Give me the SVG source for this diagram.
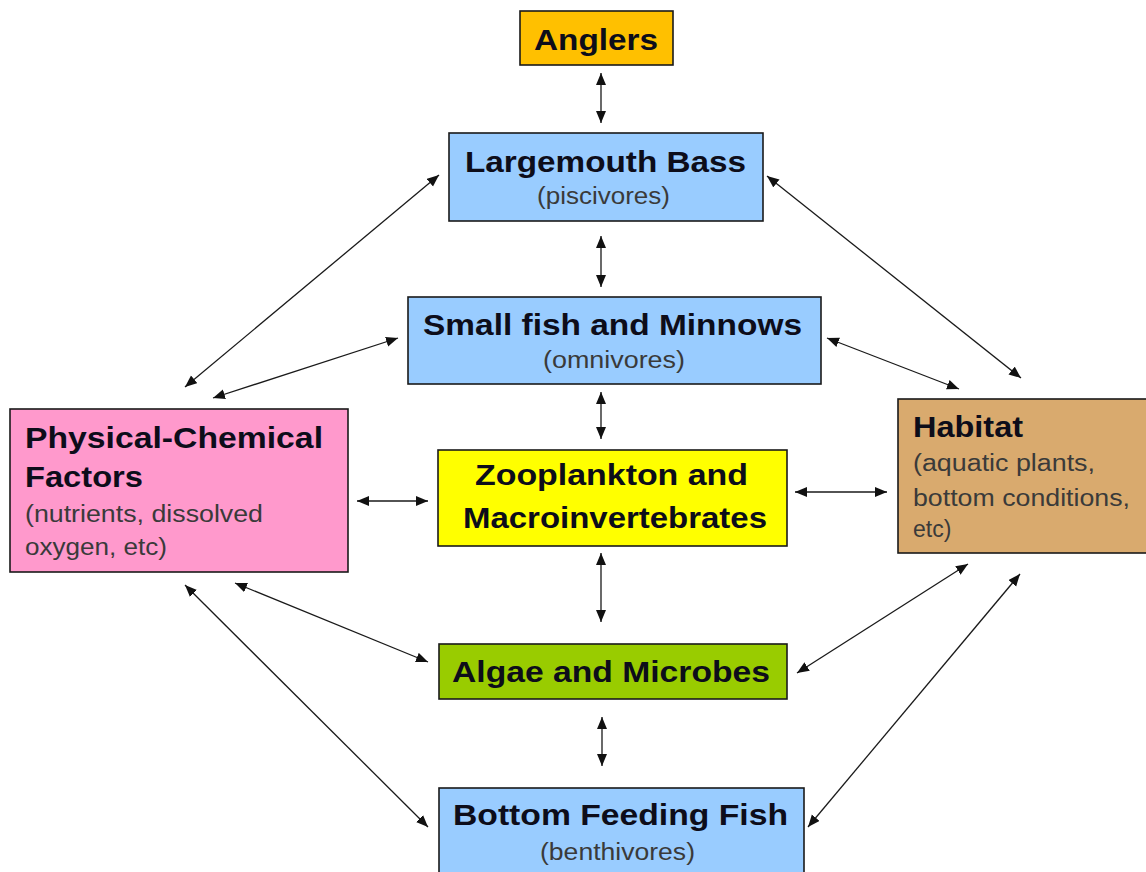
<svg xmlns="http://www.w3.org/2000/svg" width="1146" height="872" viewBox="0 0 1146 872">
<style>
.box{stroke:#1a1a1a;stroke-width:1.6}
.t{font-family:"Liberation Sans",Arial,sans-serif;font-weight:bold;font-size:30px;fill:#0d0d1a}
.s{font-family:"Liberation Sans",Arial,sans-serif;font-size:23px;fill:#3a3a3a}
.c line{stroke:#1a1a1a;stroke-width:1.3;marker-start:url(#ah);marker-end:url(#ah)}
</style>
<defs>
<marker id="ah" markerUnits="userSpaceOnUse" markerWidth="14" markerHeight="12" refX="12" refY="5" orient="auto-start-reverse">
<path d="M0,0 L12,5 L0,10 z" fill="#111"/>
</marker>
</defs>
<rect width="1146" height="872" fill="#fff"/>
<g id="anglers"><rect class="box" x="520" y="11" width="153" height="54" fill="#FFC000"/><text class="t" x="534" y="50" textLength="124" lengthAdjust="spacingAndGlyphs">Anglers</text></g>
<g id="bass"><rect class="box" x="449" y="133" width="314" height="88" fill="#99CCFF"/><text class="t" x="465" y="172" textLength="281" lengthAdjust="spacingAndGlyphs">Largemouth Bass</text><text class="s" x="537" y="204" textLength="133" lengthAdjust="spacingAndGlyphs">(piscivores)</text></g>
<g id="smallfish"><rect class="box" x="408" y="297" width="413" height="87" fill="#99CCFF"/><text class="t" x="423" y="335" textLength="379" lengthAdjust="spacingAndGlyphs">Small fish and Minnows</text><text class="s" x="543" y="368" textLength="142" lengthAdjust="spacingAndGlyphs">(omnivores)</text></g>
<g id="physchem"><rect class="box" x="10" y="409" width="338" height="163" fill="#FF99CC"/><text class="t" x="25" y="448" textLength="298" lengthAdjust="spacingAndGlyphs">Physical-Chemical</text><text class="t" x="25" y="487" textLength="118" lengthAdjust="spacingAndGlyphs">Factors</text><text class="s" x="25" y="522" textLength="238" lengthAdjust="spacingAndGlyphs">(nutrients, dissolved</text><text class="s" x="25" y="555" textLength="142" lengthAdjust="spacingAndGlyphs">oxygen, etc)</text></g>
<g id="zoo"><rect class="box" x="438" y="450" width="349" height="96" fill="#FFFF00"/><text class="t" x="475" y="485" textLength="273" lengthAdjust="spacingAndGlyphs">Zooplankton and</text><text class="t" x="463" y="528" textLength="304" lengthAdjust="spacingAndGlyphs">Macroinvertebrates</text></g>
<g id="habitat"><rect class="box" x="898" y="399" width="252" height="154" fill="#D9AA6E"/><text class="t" x="913" y="437" textLength="110" lengthAdjust="spacingAndGlyphs">Habitat</text><text class="s" x="913" y="471" textLength="182" lengthAdjust="spacingAndGlyphs">(aquatic plants,</text><text class="s" x="913" y="506" textLength="217" lengthAdjust="spacingAndGlyphs">bottom conditions,</text><text class="s" x="913" y="537">etc)</text></g>
<g id="algae"><rect class="box" x="439" y="644" width="348" height="55" fill="#99CC00"/><text class="t" x="452" y="682" textLength="318" lengthAdjust="spacingAndGlyphs">Algae and Microbes</text></g>
<g id="bottom"><rect class="box" x="439" y="788" width="365" height="92" fill="#99CCFF"/><text class="t" x="453" y="825" textLength="335" lengthAdjust="spacingAndGlyphs">Bottom Feeding Fish</text><text class="s" x="540" y="860" textLength="155" lengthAdjust="spacingAndGlyphs">(benthivores)</text></g>
<g id="connectors" class="c">
<line x1="601" y1="73" x2="601" y2="123"/>
<line x1="601" y1="236" x2="601" y2="287"/>
<line x1="601" y1="392" x2="601" y2="439"/>
<line x1="601" y1="553" x2="601" y2="622"/>
<line x1="602" y1="717" x2="602" y2="766"/>
<line x1="357" y1="501" x2="428" y2="501"/>
<line x1="795" y1="492" x2="887" y2="492"/>
<line x1="185" y1="387" x2="439" y2="175"/>
<line x1="213" y1="398" x2="398" y2="338"/>
<line x1="767" y1="176" x2="1021" y2="378"/>
<line x1="827" y1="338" x2="959" y2="389"/>
<line x1="235" y1="583" x2="428" y2="662"/>
<line x1="185" y1="585" x2="428" y2="827"/>
<line x1="968" y1="564" x2="797" y2="673"/>
<line x1="1020" y1="574" x2="808" y2="827"/>
</g>
</svg>
